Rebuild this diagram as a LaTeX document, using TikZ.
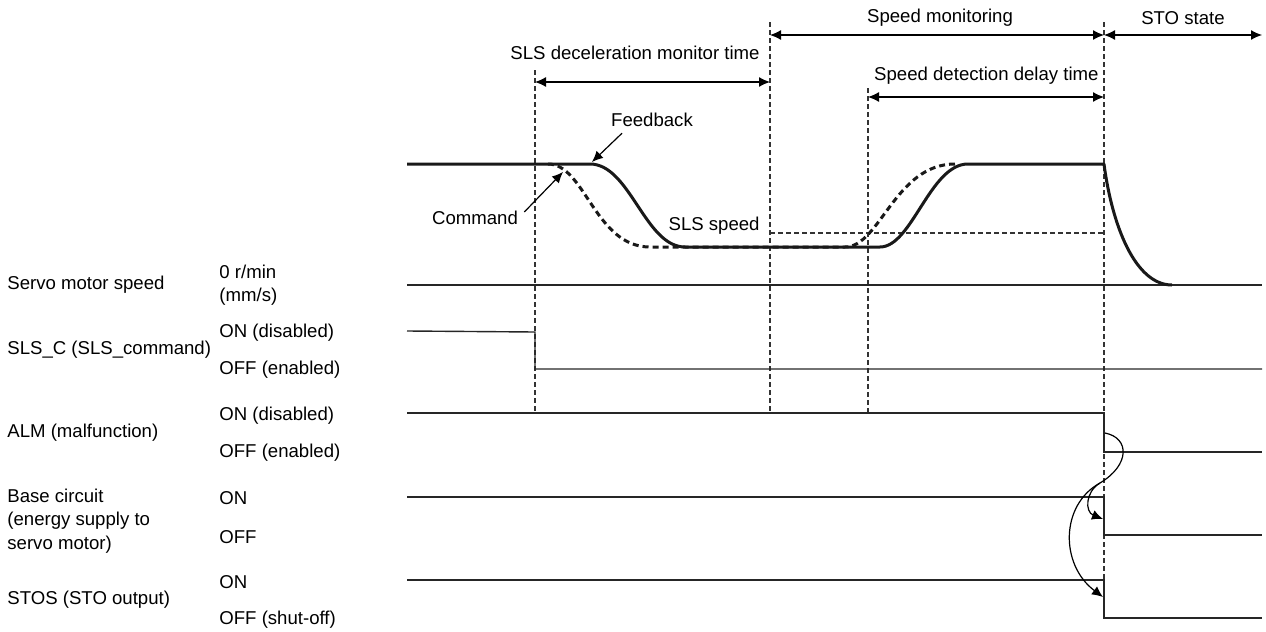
\documentclass[tikz,border=0pt]{standalone}
\usepackage{fontspec}
\setmainfont{Liberation Sans}
\usetikzlibrary{arrows.meta}

\begin{document}
\begin{tikzpicture}[x=0.5pt, y=-0.5pt,
    tcText/.style={inner sep=0pt, align=left, font=\fontsize{9.3}{11.7}\selectfont},
    tcSignal/.style={line width=0.7pt, black!85},
    tcSpeed/.style={line width=1.5pt, line join=round, black!90},
    tcCommand/.style={line width=1.5pt, black!90, dash pattern=on 3pt off 2pt},
    tcGuide/.style={line width=0.55pt, black!80, dash pattern=on 2.5pt off 1.5pt},
    tcSpan/.style={{Latex[length=5.5pt,width=5pt]}-{Latex[length=5.5pt,width=5pt]}, line width=0.6pt},
    tcArrow/.style={-{Latex[length=5.5pt,width=5pt]}, line width=0.6pt}]

    \useasboundingbox (0,0) rectangle (1266,632);

    % signal names and levels
    \node[tcText, anchor=west] (spdName) at (7,285) {Servo motor speed};
    \node[tcText, anchor=west] (spdLevel) at (219,285) {0 r/min\\(mm/s)};
    \node[tcText, anchor=west] (slsName) at (7,350) {SLS\_C (SLS\_command)};
    \node[tcText, anchor=west] (slsOn) at (219,333) {ON (disabled)};
    \node[tcText, anchor=west] (slsOff) at (219,370) {OFF (enabled)};
    \node[tcText, anchor=west] (almName) at (7,433) {ALM (malfunction)};
    \node[tcText, anchor=west] (almOn) at (219,416) {ON (disabled)};
    \node[tcText, anchor=west] (almOff) at (219,453) {OFF (enabled)};
    \node[tcText, anchor=west] (baseName) at (7,521) {Base circuit\\(energy supply to\\servo motor)};
    \node[tcText, anchor=west] (baseOn) at (219,498) {ON};
    \node[tcText, anchor=west] (baseOff) at (219,537) {OFF};
    \node[tcText, anchor=west] (stosName) at (7,600) {STOS (STO output)};
    \node[tcText, anchor=west] (stosOn) at (219,582) {ON};
    \node[tcText, anchor=west] (stosOff) at (219,620) {OFF (shut-off)};

    % time spans
    \node[tcText] (monLabel) at (940,18) {Speed monitoring};
    \node[tcText] (stoLabel) at (1183,18) {STO state};
    \node[tcText, anchor=east] (decLabel) at (760,53) {SLS deceleration monitor time};
    \node[tcText, anchor=east] (delayLabel) at (1099,76) {Speed detection delay time};

    \draw[tcGuide] (535,70) -- (535,413);
    \draw[tcGuide] (770,22) -- (770,413);
    \draw[tcGuide] (868,88) -- (868,413);
    \draw[tcGuide] (1104,22) -- (1104,580);

    \draw[tcSpan] (535,82) -- (770,82);
    \draw[tcSpan] (770,35) -- (1104,35);
    \draw[tcSpan] (868,97) -- (1104,97);
    \draw[tcSpan] (1104,35) -- (1262,35);

    % servo motor speed
    \node[tcText, anchor=east] (slsSpeed) at (760,226) {SLS speed};
    \draw[tcGuide] (770,233) -- (1104,233);
    \draw[tcSignal] (407,285) -- (1262,285);
    \draw[tcSpeed] (407,164) -- (590,164) .. controls (630,164) and (645,247) .. (685,247)
        -- (880,247) .. controls (912,247) and (930,164) .. (968,164)
        -- (1104,164) .. controls (1112,225) and (1135,285) .. (1172,285);
    \draw[tcCommand] (548,164) .. controls (585,164) and (595,247) .. (650,247)
        -- (845,247) .. controls (880,247) and (895,164) .. (955,164);

    \node[tcText] (fbLabel) at (652,120) {Feedback};
    \node[tcText] (cmdLabel) at (475,218) {Command};
    \coordinate (fbTip) at (592,162);
    \coordinate (cmdTip) at (563,172);
    \draw[tcArrow] ([xshift=-15pt,yshift=-3pt]fbLabel.south) -- (fbTip);
    \draw[tcArrow] ([xshift=3pt,yshift=3pt]cmdLabel.east) -- (cmdTip);

    % signals
    \draw[tcSignal] (407,331) -- (535,332) -- (535,369) -- (1262,369);
    \draw[tcSignal] (407,413) -- (1104,413) -- (1104,452) -- (1262,452);
    \draw[tcSignal] (407,497) -- (1104,497) -- (1104,535) -- (1262,535);
    \draw[tcSignal] (407,580) -- (1104,580) -- (1104,618) -- (1262,618);

    % alarm to shut-off
    \coordinate (almEdge) at (1105,433);
    \coordinate (split) at (1100,483);
    \coordinate (baseEdge) at (1103,519);
    \coordinate (stosEdge) at (1103,597);
    \draw[tcArrow] (almEdge) .. controls (1130,438) and (1130,465) .. (split)
        .. controls (1085,492) and (1085,512) .. (baseEdge);
    \draw[tcArrow] (split) .. controls (1060,505) and (1060,565) .. (stosEdge);
\end{tikzpicture}
\end{document}
